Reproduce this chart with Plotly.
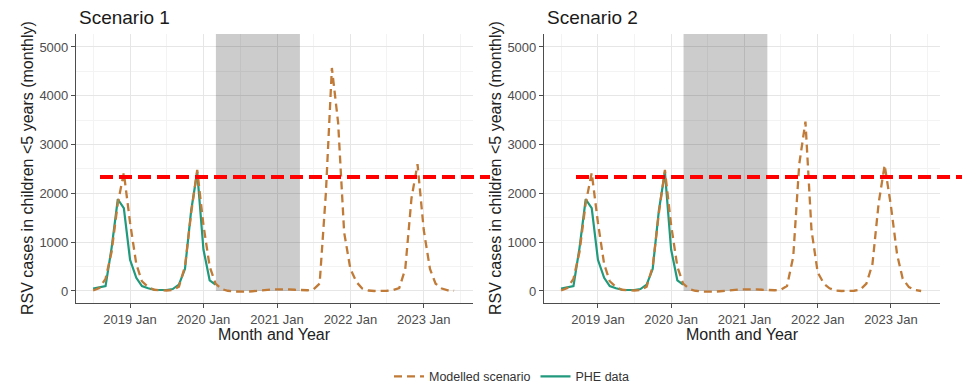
import pandas as pd
import plotly.graph_objects as go

# ---------------- data ----------------
model_months = pd.date_range("2018-07-01", "2023-06-01", freq="MS")
phe_months = pd.date_range("2018-07-01", "2020-03-01", freq="MS")

modelled_s1 = [
    10, 60, 250, 800, 1800, 2420,
    1400, 550, 200, 80, 25, 10, 10, 20, 90, 500, 1600, 2480,
    1350, 500, 150, 40, 5, -10, -15, -15, -5, 10, 20, 30,
    35, 40, 35, 25, 20, 15, 30, 150, 2000, 4570, 3450, 1200,
    450, 180, 50, 10, 0, 0, 5, 20, 60, 450, 1900, 2600,
    1250, 450, 150, 50, 15, 5,
]
modelled_s2 = [
    10, 60, 250, 800, 1800, 2420,
    1400, 550, 200, 80, 25, 10, 10, 20, 90, 500, 1600, 2480,
    1350, 500, 150, 40, 5, -10, -15, -15, -5, 10, 20, 30,
    35, 40, 35, 25, 20, 15, 25, 100, 700, 2600, 3470, 1250,
    380, 150, 55, 10, 0, 0, 5, 25, 150, 550, 1800, 2580,
    1750, 750, 250, 80, 20, 0,
]
phe_data = [
    50, 70, 100, 880, 1880, 1700,
    640, 270, 100, 55, 25, 20, 20, 40, 130, 450, 1650, 2440,
    850, 220, 130,
]

panel_titles = ["Scenario 1", "Scenario 2"]
threshold = 2336
shade_start, shade_end = "2020-03-03", "2021-04-25"
x_range = ["2018-04-07", "2023-09-03"]
y_range = [-246, 5266]

# ---------------- style ----------------
W, H = 977, 386
BROWN = "#c17b38"
TEAL = "#21997c"
FONT = "Liberation Sans, Arial, sans-serif"

fig = go.Figure()

panels = [
    dict(series=modelled_s1, xa="x", ya="y", x0=76, x1=473, red=(100, 490)),
    dict(series=modelled_s2, xa="x2", ya="y2", x0=544, x1=940, red=(576, 962)),
]

for i, p in enumerate(panels):
    fig.add_trace(go.Scatter(
        x=phe_months, y=phe_data, mode="lines", name="PHE data",
        line=dict(color=TEAL, width=2.2), xaxis=p["xa"], yaxis=p["ya"],
        showlegend=(i == 0), legendrank=2,
    ))
    fig.add_trace(go.Scatter(
        x=model_months, y=p["series"], mode="lines", name="Modelled scenario",
        line=dict(color=BROWN, width=2.3, dash="8px,5px"), xaxis=p["xa"], yaxis=p["ya"],
        showlegend=(i == 0), legendrank=1,
    ))

top_px, bot_px = 34, 303
ydom = [1 - bot_px / H, 1 - top_px / H]

axis_common = dict(
    showline=True, linecolor="#4d4d4d", linewidth=1.2,
    ticks="outside", ticklen=4, tickcolor="#4d4d4d", tickwidth=1,
    tickfont=dict(family=FONT, size=13, color="#4d4d4d"),
    showgrid=True, gridcolor="#e6e6e6", gridwidth=1, zeroline=False,
)

layout = dict(
    width=W, height=H, margin=dict(l=0, r=0, t=0, b=0, autoexpand=False),
    plot_bgcolor="white", paper_bgcolor="white",
    font=dict(family=FONT, color="#333333"),
    showlegend=True,
    legend=dict(orientation="h", x=512 / W, xanchor="center", y=-0.015, yanchor="bottom",
                itemwidth=30, tracegroupgap=0,
                font=dict(family=FONT, size=12.5, color="#333333"), bgcolor="rgba(0,0,0,0)"),
)

shapes = []
annotations = []
for i, p in enumerate(panels):
    sx = "" if i == 0 else "2"
    layout["xaxis" + sx] = dict(
        axis_common, domain=[p["x0"] / W, p["x1"] / W], anchor="y" + sx,
        type="date", range=x_range, dtick="M12", tick0="2019-01-01", tickformat="%Y %b",
        minor=dict(dtick="M6", tick0="2018-07-01", showgrid=True, gridcolor="#f3f3f3", ticks=""),
    )
    layout["yaxis" + sx] = dict(
        axis_common, domain=ydom, anchor="x" + sx, range=y_range, dtick=1000, tick0=0,
        minor=dict(dtick=500, tick0=0, showgrid=True, gridcolor="#f3f3f3", ticks=""),
    )
    shapes.append(dict(type="rect", xref="x" + sx, yref="y" + sx,
                       x0=shade_start, x1=shade_end, y0=0, y1=y_range[1],
                       fillcolor="rgba(0,0,0,0.2)", line=dict(width=0), layer="between"))
    w = p["x1"] - p["x0"]
    shapes.append(dict(type="line", xref="x%s domain" % sx, yref="y" + sx,
                       x0=(p["red"][0] - p["x0"]) / w, x1=(p["red"][1] - p["x0"]) / w,
                       y0=threshold, y1=threshold,
                       line=dict(color="#ff0000", width=4, dash="13px,6px"), layer="above"))
    annotations.append(dict(text=panel_titles[i], xref="paper", yref="paper",
                            x=(p["x0"] + 1) / W, y=1 - 17 / H, xanchor="left", yanchor="middle",
                            showarrow=False, font=dict(family=FONT, size=19, color="#1a1a1a")))
    annotations.append(dict(text="Month and Year", xref="paper", yref="paper",
                            x=(p["x0"] + p["x1"]) / 2 / W, y=1 - 334 / H,
                            xanchor="center", yanchor="middle", showarrow=False,
                            font=dict(family=FONT, size=16, color="#222222")))
    annotations.append(dict(text="RSV cases in children <5 years (monthly)", xref="paper", yref="paper",
                            x=(p["x0"] - 48.5) / W, y=1 - (top_px + bot_px) / 2 / H,
                            xanchor="center", yanchor="middle", textangle=-90, showarrow=False,
                            font=dict(family=FONT, size=16, color="#222222")))

layout["shapes"] = shapes
layout["annotations"] = annotations
fig.update_layout(**layout)

fig.write_html("out.html", config={"displayModeBar": False},
               post_script="document.body.style.margin='0';document.body.style.overflow='hidden';")
